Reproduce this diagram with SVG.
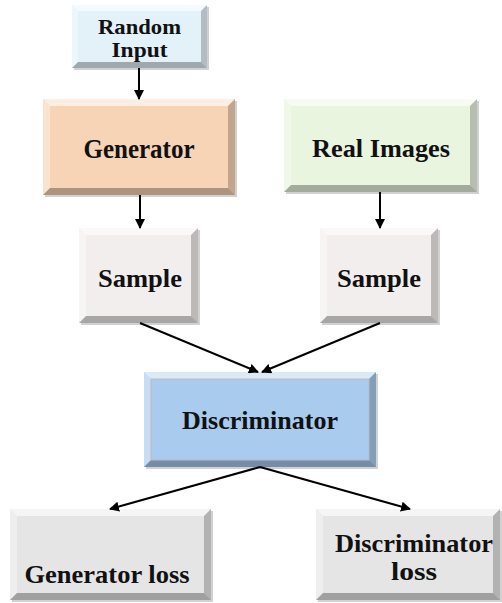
<svg xmlns="http://www.w3.org/2000/svg" width="502" height="603" viewBox="0 0 502 603">
<style>
.t{font-family:'Liberation Serif',Tinos,'Times New Roman',Times,serif;font-weight:700;fill:#111;text-anchor:middle}
.bt{fill:#fff;opacity:.6}
.bl{fill:#fff;opacity:.35}
.br{fill:#000;opacity:.22}
.bb{fill:#000;opacity:.3}
.sh{fill:#000;opacity:.18}
.edge{fill:none;stroke:#bbb;stroke-width:1}
.c{stroke:#000;stroke-width:2;fill:none;marker-end:url(#ah)}
</style>
<defs>
<marker id="ah" markerWidth="10" markerHeight="10" refX="9" refY="5" orient="auto" markerUnits="userSpaceOnUse">
<path d="M0,0 L10,5 L0,10 z" fill="#000"/>
</marker>
</defs>
<rect width="502" height="603" fill="#fff"/>

<g id="random-input">
<rect class="sh" x="74" y="7" width="135" height="63"/>
<rect x="72" y="5" width="135" height="63" fill="#e3f2f9"/>
<polygon class="bt" points="72,5 207,5 201,11 78,11"/>
<polygon class="bl" points="72,5 78,11 78,62 72,68"/>
<polygon class="br" points="207,5 207,68 201,62 201,11"/>
<polygon class="bb" points="72,68 78,62 201,62 207,68"/>
<text class="t" x="139.5" y="34" font-size="21" textLength="83" lengthAdjust="spacingAndGlyphs">Random</text>
<text class="t" x="139.5" y="57" font-size="21" textLength="56" lengthAdjust="spacingAndGlyphs">Input</text>
</g>

<g id="generator">
<rect class="sh" x="45" y="101" width="192" height="96"/>
<rect x="43" y="99" width="192" height="96" fill="#f8d4b6"/>
<polygon class="bt" points="43,99 235,99 228,106 50,106"/>
<polygon class="bl" points="43,99 50,106 50,188 43,195"/>
<polygon class="br" points="235,99 235,195 228,188 228,106"/>
<polygon class="bb" points="43,195 50,188 228,188 235,195"/>
<text class="t" x="139" y="158" font-size="27" textLength="111" lengthAdjust="spacingAndGlyphs">Generator</text>
</g>

<g id="real-images">
<rect class="sh" x="286" y="101" width="193" height="93"/>
<rect x="284" y="99" width="193" height="93" fill="#eaf5e0"/>
<polygon class="bt" points="284,99 477,99 470,106 291,106"/>
<polygon class="bl" points="284,99 291,106 291,185 284,192"/>
<polygon class="br" points="477,99 477,192 470,185 470,106"/>
<polygon class="bb" points="284,192 291,185 470,185 477,192"/>
<text class="t" x="381" y="157" font-size="26" textLength="138" lengthAdjust="spacingAndGlyphs">Real Images</text>
</g>

<g id="sample-left">
<rect class="sh" x="81" y="230" width="119" height="95"/>
<rect x="79" y="228" width="119" height="95" fill="#f3eeee"/>
<polygon class="bt" points="79,228 198,228 191,235 86,235"/>
<polygon class="bl" points="79,228 86,235 86,316 79,323"/>
<polygon class="br" points="198,228 198,323 191,316 191,235"/>
<polygon class="bb" points="79,323 86,316 191,316 198,323"/>
<text class="t" x="140" y="287" font-size="25" textLength="84" lengthAdjust="spacingAndGlyphs">Sample</text>
</g>

<g id="sample-right">
<rect class="sh" x="322" y="230" width="118" height="95"/>
<rect x="320" y="228" width="118" height="95" fill="#f3eeee"/>
<polygon class="bt" points="320,228 438,228 431,235 327,235"/>
<polygon class="bl" points="320,228 327,235 327,316 320,323"/>
<polygon class="br" points="438,228 438,323 431,316 431,235"/>
<polygon class="bb" points="320,323 327,316 431,316 438,323"/>
<text class="t" x="379" y="287" font-size="25" textLength="84" lengthAdjust="spacingAndGlyphs">Sample</text>
</g>

<g id="discriminator">
<rect class="sh" x="146" y="374" width="232" height="95"/>
<rect x="144" y="372" width="232" height="95" fill="#a8cbee"/>
<polygon class="bt" points="144,372 376,372 369,379 151,379"/>
<polygon class="bl" points="144,372 151,379 151,460 144,467"/>
<polygon class="br" points="376,372 376,467 369,460 369,379"/>
<polygon class="bb" points="144,467 151,460 369,460 376,467"/>
<rect class="edge" x="151" y="379" width="218" height="81"/>
<text class="t" x="260" y="429" font-size="26" textLength="156" lengthAdjust="spacingAndGlyphs">Discriminator</text>
</g>

<g id="generator-loss">
<rect class="sh" x="12" y="511" width="201" height="91"/>
<rect x="10" y="509" width="201" height="91" fill="#e5e5e5"/>
<polygon class="bt" points="10,509 211,509 204,516 17,516"/>
<polygon class="bl" points="10,509 17,516 17,593 10,600"/>
<polygon class="br" points="211,509 211,600 204,593 204,516"/>
<polygon class="bb" points="10,600 17,593 204,593 211,600"/>
<text class="t" x="107" y="583" font-size="25" textLength="165" lengthAdjust="spacingAndGlyphs">Generator loss</text>
</g>

<g id="discriminator-loss">
<rect class="sh" x="318" y="511" width="184" height="91"/>
<rect x="316" y="509" width="184" height="91" fill="#e5e5e5"/>
<polygon class="bt" points="316,509 500,509 493,516 323,516"/>
<polygon class="bl" points="316,509 323,516 323,593 316,600"/>
<polygon class="br" points="500,509 500,600 493,593 493,516"/>
<polygon class="bb" points="316,600 323,593 493,593 500,600"/>
<text class="t" x="414" y="552" font-size="25" textLength="158" lengthAdjust="spacingAndGlyphs">Discriminator</text>
<text class="t" x="414" y="580" font-size="25" textLength="46" lengthAdjust="spacingAndGlyphs">loss</text>
</g>

<g id="connectors">
<line class="c" x1="139" y1="68" x2="139" y2="99"/>
<line class="c" x1="140" y1="195" x2="140" y2="228"/>
<line class="c" x1="380" y1="192" x2="380" y2="228"/>
<line class="c" x1="140" y1="323" x2="258" y2="372"/>
<line class="c" x1="380" y1="323" x2="262" y2="372"/>
<line class="c" x1="260" y1="467" x2="110" y2="509"/>
<line class="c" x1="260" y1="467" x2="410" y2="509"/>
</g>
</svg>
